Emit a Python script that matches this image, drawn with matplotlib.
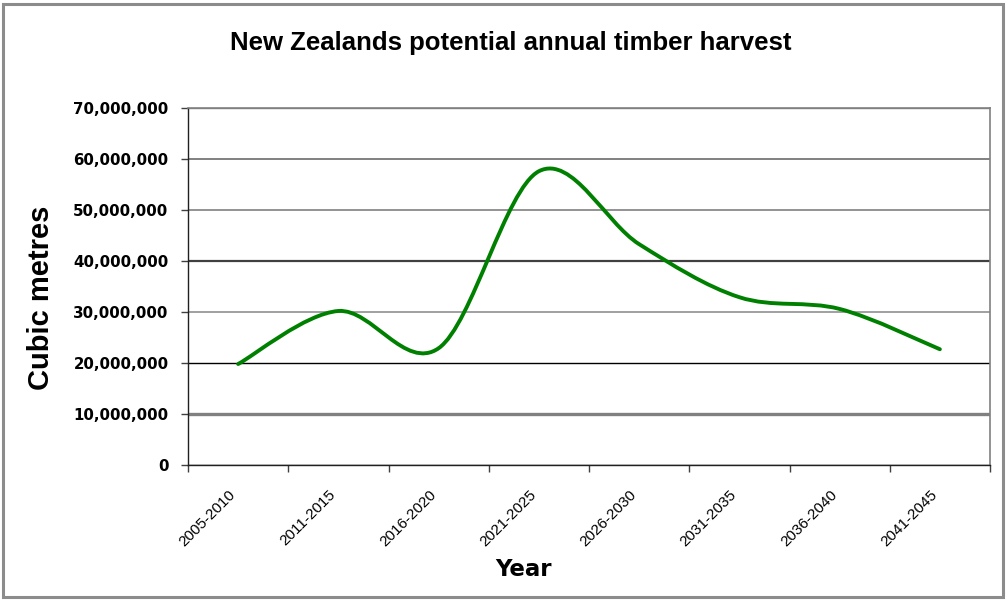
import numpy as np
import matplotlib
matplotlib.use('Agg')
import matplotlib.pyplot as plt
from matplotlib.path import Path
from matplotlib.patches import PathPatch, Rectangle
from matplotlib.ticker import FuncFormatter, FixedLocator

# -----------------------------
# data
# -----------------------------
periods = ['2005-2010', '2011-2015', '2016-2020', '2021-2025',
           '2026-2030', '2031-2035', '2036-2040', '2041-2045']
harvest = [19.8e6, 30.2e6, 22.9e6, 57.6e6, 43.3e6, 32.9e6, 30.6e6, 22.7e6]
y_ticks = [0, 10e6, 20e6, 30e6, 40e6, 50e6, 60e6, 70e6]

title = 'New Zealands potential annual timber harvest'
xlabel = 'Year'
ylabel = 'Cubic metres'

# -----------------------------
# figure
# -----------------------------
fig = plt.figure(figsize=(10.08, 6.01), dpi=100)
fig.patch.set_facecolor('white')
fig.patches.append(Rectangle((3 / 1008, 4 / 601), 1000 / 1008, 593 / 601,
                             transform=fig.transFigure, fill=False,
                             edgecolor='#8c8c8c', linewidth=2.2))

ax = fig.add_axes([188 / 1008, 1 - 465 / 601, 802 / 1008, 357 / 601])
ax.set_xlim(0, len(periods))
ax.set_ylim(0, 70e6)

# smoothed line (Excel style bezier through the points)
x = np.arange(len(periods)) + 0.5
y = np.array(harvest)
pts = np.column_stack([x, y])
ext = np.vstack([pts[0], pts, pts[-1]])
verts = [tuple(pts[0])]
codes = [Path.MOVETO]
for i in range(len(pts) - 1):
    p0, p1, p2, p3 = ext[i], ext[i + 1], ext[i + 2], ext[i + 3]
    c1 = p1 + (p2 - p0) / 6
    c2 = p2 - (p3 - p1) / 6
    verts += [tuple(c1), tuple(c2), tuple(p2)]
    codes += [Path.CURVE4] * 3
ax.add_patch(PathPatch(Path(verts, codes), fill=False, edgecolor='#008000',
                       linewidth=2.8, capstyle='round', zorder=3))

# y axis
ax.yaxis.set_major_locator(FixedLocator(y_ticks))
ax.yaxis.set_major_formatter(FuncFormatter(lambda v, p: f'{v:,.0f}'))
ax.yaxis.grid(True)
grid_styles = [('#000000', 1.0), ('#808080', 2.4), ('#000000', 1.0), ('#a0a0a0', 1.4),
               ('#404040', 1.6), ('#808080', 1.2), ('#808080', 1.4), ('#808080', 1.0)]
for gl, (c, w) in zip(ax.get_ygridlines(), grid_styles):
    gl.set_color(c)
    gl.set_linewidth(w)
ax.tick_params(axis='y', direction='out', length=5, width=1, color='#404040', pad=9)
for lab in ax.get_yticklabels():
    lab.set_fontfamily('DejaVu Sans')
    lab.set_fontweight('bold')
    lab.set_fontsize(10.8)

# x axis: ticks at category edges, labels at centres
ax.xaxis.set_major_locator(FixedLocator(x))
ax.set_xticklabels(periods, rotation=45, ha='right', va='top',
                   fontsize=11, family='Liberation Sans')
ax.xaxis.set_minor_locator(FixedLocator(np.arange(len(periods) + 1)))
ax.tick_params(axis='x', which='major', length=0, pad=16)
ax.tick_params(axis='x', which='minor', direction='out', length=5, width=1, color='#404040')

for side in ['left', 'bottom']:
    ax.spines[side].set_color('#202020')
    ax.spines[side].set_linewidth(1.0)
for side in ['top', 'right']:
    ax.spines[side].set_color('#808080')
    ax.spines[side].set_linewidth(1.2)

# texts
fig.text(511 / 1008, 1 - 43 / 601, title, ha='center', va='center',
         family='Liberation Sans', fontweight='bold', fontsize=18.5)
fig.text(523 / 1008, 1 - 570 / 601, xlabel, ha='center', va='center',
         family='DejaVu Sans', fontweight='bold', fontsize=16.5)
fig.text(41 / 1008, 1 - 298 / 601, ylabel, ha='center', va='center', rotation=90,
         family='Liberation Sans', fontweight='bold', fontsize=21)

fig.savefig('out.png', dpi=100)
